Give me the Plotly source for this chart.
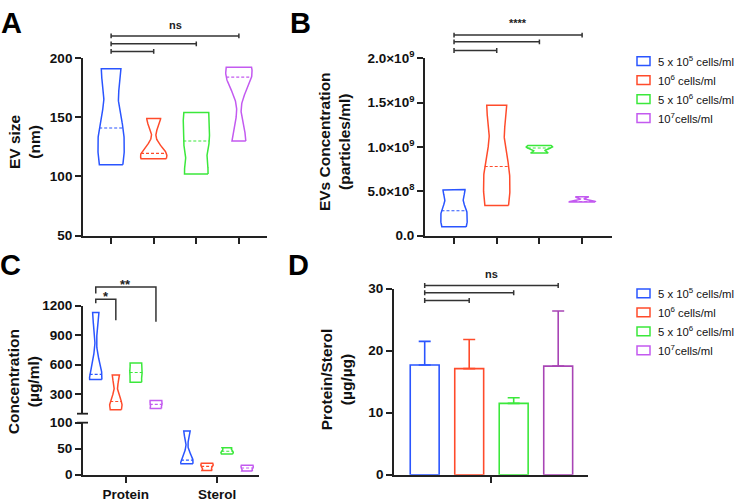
import numpy as np
import plotly.graph_objects as go

W, H = 736, 502
FONT = "Arial, Liberation Sans, Helvetica, sans-serif"

def fx(p):
    return p / W

def fy(p):
    return 1 - p / H

# ---------------- data ----------------
groups = ["5e5", "1e6", "5e6", "1e7"]
legend_labels = ["5 x 10<sup>5</sup> cells/ml", "10<sup>6</sup> cells/ml",
                 "5 x 10<sup>6</sup> cells/ml", "10<sup>7</sup>cells/ml"]
violin_colors = ["#2a55ff", "#ff4b2b", "#3be83b", "#c35af0"]
bar_colors = ["#2a55ff", "#ff4b2b", "#3be83b", "#a845b5"]

# A: EV size (nm), replicates per group
ev_size = [[110, 141, 191], [115, 119.5, 149], [102, 130, 154], [130, 184, 192.4]]
# B: EV concentration (particles/ml)
ev_conc = [[1.0e8, 2.8e8, 5.2e8], [3.4e8, 7.8e8, 1.47e9],
           [9.3e8, 9.87e8, 1.015e9], [3.8e8, 3.85e8, 4.38e8]]
# C: concentration (ug/ml)
c_categories = ["Protein", "Sterol"]
protein = [[447, 500, 1130], [140, 224, 495], [421, 519, 617], [153, 195, 234]]
sterol = [[21, 28, 84], [8, 16, 22], [40, 45, 52], [7, 13, 18]]
# D: protein/sterol ratio (mean, SD)
ratio_mean = [17.7, 17.1, 11.5, 17.5]
ratio_sd = [3.8, 4.7, 0.9, 8.9]

# significance annotations (group index pairs, label)
sig_A = ([(0, 1), (0, 2), (0, 3)], "ns", [205.7, 212.2, 218.8], 228.0)
sig_B = ([(0, 1), (0, 2), (0, 3)], "****", [2.087e9, 2.185e9, 2.261e9], 2.40e9)
sig_D = ([(0, 1), (0, 2), (0, 3)], "ns", [28.1, 29.35, 30.5], 32.4)

# ---------------- helpers ----------------
def violin_path(vals, center, half_w, bw_frac=0.22, n=90):
    v = np.asarray(vals, float)
    lo, hi = v.min(), v.max()
    bw = bw_frac * (hi - lo)
    ys = np.linspace(lo, hi, n)
    d = np.exp(-0.5 * ((ys[:, None] - v[None, :]) / bw) ** 2).sum(1)
    m = d.max()
    hw = half_w * d / m
    xs = np.concatenate([center + hw, (center - hw)[::-1], [center + hw[0]]])
    yy = np.concatenate([ys, ys[::-1], [ys[0]]])
    med = float(np.median(v))
    dm = half_w * np.exp(-0.5 * ((med - v) / bw) ** 2).sum() / m
    return xs, yy, med, dm

fig = go.Figure()

def add_violins(data, centers, half_w, xa, ya, colors):
    for vals, c, col in zip(data, centers, colors):
        xs, yy, med, dm = violin_path(vals, c, half_w)
        fig.add_trace(go.Scatter(x=xs, y=yy, mode="lines", xaxis=xa, yaxis=ya,
                                 line=dict(color=col, width=1.5), hoverinfo="skip",
                                 showlegend=False))
        fig.add_trace(go.Scatter(x=[c - dm, c + dm], y=[med, med], mode="lines",
                                 xaxis=xa, yaxis=ya, hoverinfo="skip", showlegend=False,
                                 line=dict(color=col, width=1.1, dash="3px,2px")))

def add_sig(sig, xa, ya, cap):
    pairs, label, ys, ylab = sig
    X, Y = [], []
    for (a, b), y in zip(pairs, ys):
        X += [a, b, None, a, a, None, b, b, None]
        Y += [y, y, None, y - cap, y + cap, None, y - cap, y + cap, None]
    fig.add_trace(go.Scatter(x=X, y=Y, mode="lines", xaxis=xa, yaxis=ya,
                             line=dict(color="#333", width=1.5), hoverinfo="skip",
                             showlegend=False))
    xm = (min(p[0] for p in pairs) + max(p[1] for p in pairs)) / 2
    fig.add_annotation(x=xm, y=ylab, xref=xa, yref=ya, text="<b>%s</b>" % label,
                       showarrow=False, font=dict(family=FONT, size=11, color="#222"))

# ---------------- Panel A ----------------
idx = list(range(len(groups)))
add_violins(ev_size, idx, 0.31, "x", "y", violin_colors)
add_sig(sig_A, "x", "y5", 2.0)

# ---------------- Panel B ----------------
add_violins(ev_conc, idx, 0.31, "x2", "y2", violin_colors)
add_sig(sig_B, "x2", "y6", 2.7e7)

# ---------------- Panel C ----------------
offsets = [-0.33, -0.11, 0.11, 0.33]
add_violins(protein, [0 + o for o in offsets], 0.068, "x3", "y4", violin_colors)
add_violins(sterol, [1 + o for o in offsets], 0.068, "x3", "y3", violin_colors)
# brackets (upper axis units, drawn on extended axis y7)
bx = [offsets[0], offsets[0], offsets[1], offsets[1], None,
      offsets[0], offsets[0], offsets[3], offsets[3]]
by = [1226, 1265, 1265, 1052, None, 1325, 1390, 1390, 1037]
fig.add_trace(go.Scatter(x=bx, y=by, mode="lines", xaxis="x3", yaxis="y7",
                         line=dict(color="#333", width=1.5), hoverinfo="skip",
                         showlegend=False))
fig.add_annotation(x=(offsets[0] + offsets[1]) / 2, y=1290, xref="x3", yref="y7",
                   text="<b>*</b>", showarrow=False,
                   font=dict(family=FONT, size=13, color="#222"))
fig.add_annotation(x=(offsets[0] + offsets[3]) / 2, y=1415, xref="x3", yref="y7",
                   text="<b>**</b>", showarrow=False,
                   font=dict(family=FONT, size=13, color="#222"))

# ---------------- Panel D ----------------
for i, (m, s, col) in enumerate(zip(ratio_mean, ratio_sd, bar_colors)):
    fig.add_trace(go.Bar(x=[i], y=[m], xaxis="x4", yaxis="y8", width=0.65,
                         marker=dict(color="white", line=dict(color=col, width=1.6)),
                         error_y=dict(type="data", array=[s], arrayminus=[0],
                                      symmetric=False, color=col, thickness=1.6, width=6),
                         hoverinfo="skip", showlegend=False))
add_sig(sig_D, "x4", "y9", 0.4)

# ---------------- axes ----------------
tickfont = dict(family=FONT, size=13.5, color="#111", weight="bold")
ax = dict(showline=True, linecolor="#222", linewidth=1.8, ticks="outside", ticklen=6,
          tickwidth=1.8, tickcolor="#222", showgrid=False, zeroline=False,
          tickfont=tickfont, fixedrange=True)

def ext(rng, d0, d1, top):
    lo, hi = rng
    return [lo, lo + (hi - lo) * (top - d0) / (d1 - d0)]

A_dom = [fy(234), fy(50)]
A_rng = [50, 200]
B_rng = [0, 2e9]
C_low_dom = [fy(482), fy(428)]
C_up_dom = [fy(418.7), fy(306.7)]
C_up_rng = [100, 1200]
D_dom = [fy(482), fy(289)]
D_rng = [0, 30]

layout_axes = dict(
    xaxis=dict(ax, domain=[fx(83), fx(267)], range=[-0.66, 3.66], tickvals=idx,
               showticklabels=False, anchor="y"),
    yaxis=dict(ax, domain=A_dom, range=A_rng, tickvals=[50, 100, 150, 200], anchor="x"),
    xaxis2=dict(ax, domain=[fx(425), fx(612)], range=[-0.68, 3.70], tickvals=idx,
                showticklabels=False, anchor="y2"),
    yaxis2=dict(ax, domain=A_dom, range=B_rng, anchor="x2",
                tickvals=[0, 5e8, 1e9, 1.5e9, 2e9],
                ticktext=["0.0", "5.0×10<sup>8</sup>", "1.0×10<sup>9</sup>",
                          "1.5×10<sup>9</sup>", "2.0×10<sup>9</sup>"]),
    xaxis3=dict(ax, domain=[fx(83), fx(259)], range=[-0.47, 1.46], tickvals=[0, 1],
                ticktext=c_categories, anchor="y3"),
    yaxis3=dict(ax, domain=C_low_dom, range=[0, 100], tickvals=[0, 50, 100], anchor="x3"),
    yaxis4=dict(ax, domain=C_up_dom, range=C_up_rng, tickvals=[300, 600, 900, 1200],
                anchor="x3"),
    xaxis4=dict(ax, domain=[fx(394), fx(588)], range=[-0.69, 3.67], tickvals=[1.5],
                showticklabels=False, anchor="y8"),
    yaxis8=dict(ax, domain=D_dom, range=D_rng, tickvals=[0, 10, 20, 30], anchor="x4"),
    # invisible extended axes with identical scales, for annotation marks
    yaxis5=dict(visible=False, domain=[A_dom[0], 1], range=ext(A_rng, A_dom[0], A_dom[1], 1),
                anchor="x", fixedrange=True),
    yaxis6=dict(visible=False, domain=[A_dom[0], 1], range=ext(B_rng, A_dom[0], A_dom[1], 1),
                anchor="x2", fixedrange=True),
    yaxis7=dict(visible=False, domain=[C_up_dom[0], fy(250)],
                range=ext(C_up_rng, C_up_dom[0], C_up_dom[1], fy(250)),
                anchor="x3", fixedrange=True),
    yaxis9=dict(visible=False, domain=[D_dom[0], fy(250)],
                range=ext(D_rng, D_dom[0], D_dom[1], fy(250)),
                anchor="x4", fixedrange=True),
)

shapes = []
# axis break marks for panel C
for yb in (C_up_dom[0], C_low_dom[1]):
    shapes.append(dict(type="line", xref="paper", yref="paper", x0=fx(77), x1=fx(88),
                       y0=yb, y1=yb, line=dict(color="#222", width=1.8)))

annotations = []
# legends
for ytop in (53, 294):
    for k, (lab, col) in enumerate(zip(legend_labels, violin_colors)):
        yc = ytop + k * 19.7
        shapes.append(dict(type="rect", xref="paper", yref="paper", x0=fx(637), x1=fx(650),
                           y0=fy(yc + 4.5), y1=fy(yc - 4.5),
                           line=dict(color=col, width=1.5), fillcolor="white"))
        annotations.append(dict(x=fx(656), y=fy(yc), xref="paper", yref="paper",
                                xanchor="left", yanchor="middle", text=lab, showarrow=False,
                                font=dict(family=FONT, size=11.3, color="#111")))

# panel letters
for letter, xp, yp in (("A", 11, 14), ("B", 300, 14), ("C", 10, 265), ("D", 298, 265)):
    annotations.append(dict(x=fx(xp), y=fy(yp), xref="paper", yref="paper", text="<b>%s</b>" % letter,
                            showarrow=False, xanchor="center", yanchor="middle",
                            font=dict(family=FONT, size=29, color="#000")))

# y-axis titles
for txt, xp, yp in (("EV size<br>(nm)", 24, 137),
                    ("EVs Concentration<br>(particles/ml)", 334, 137),
                    ("Concentration<br>(µg/ml)", 23, 386),
                    ("Protein/Sterol<br>(µg/µg)", 336, 383)):
    annotations.append(dict(x=fx(xp), y=fy(yp), xref="paper", yref="paper",
                            text="<b>%s</b>" % txt, showarrow=False, textangle=-90,
                            xanchor="center", yanchor="middle",
                            font=dict(family=FONT, size=15.5, color="#111")))

fig.update_layout(width=W, height=H, margin=dict(l=0, r=0, t=0, b=0),
                  paper_bgcolor="white", plot_bgcolor="rgba(0,0,0,0)",
                  barmode="overlay", showlegend=False, shapes=shapes,
                  font=dict(family=FONT), **layout_axes)
for a in annotations:
    fig.add_annotation(**a)

fig.write_html("out.html")
